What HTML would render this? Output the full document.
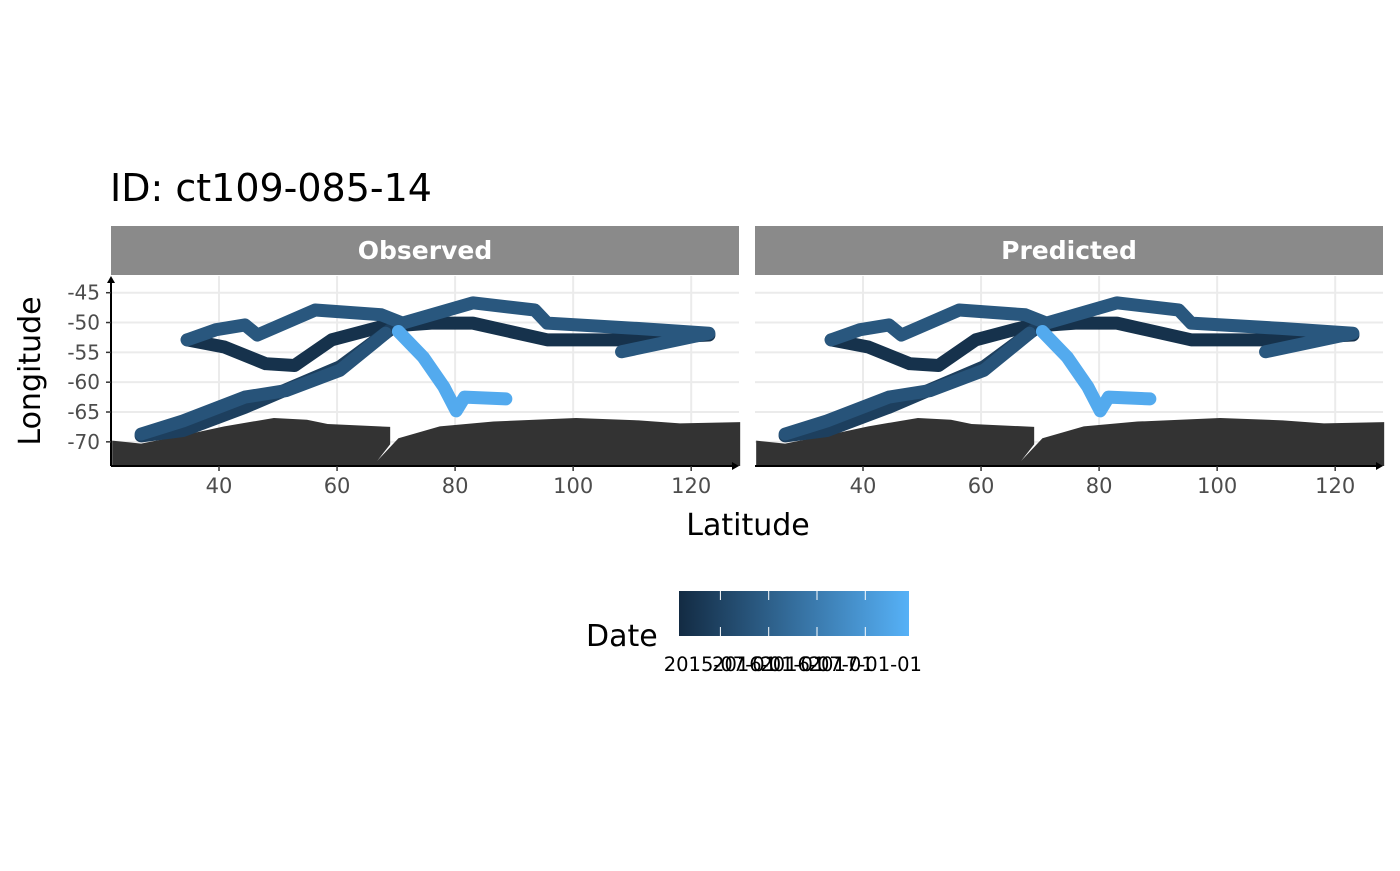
<!DOCTYPE html>
<html><head><meta charset="utf-8"><style>
body{margin:0;background:#fff;width:1400px;height:866px;overflow:hidden}
svg text{font-family:"DejaVu Sans","Liberation Sans",sans-serif}
</style></head><body>
<svg id="chart" width="1400" height="866" xmlns="http://www.w3.org/2000/svg">
<defs><linearGradient id="grad" x1="0" x2="1" y1="0" y2="0"><stop offset="0" stop-color="#132B43"/><stop offset="1" stop-color="#56B1F7"/></linearGradient></defs>
<text x="110" y="201" font-size="38" fill="#000">ID: ct109-085-14</text>
<text transform="translate(40,371) rotate(-90)" text-anchor="middle" font-size="30">Longitude</text>
<text x="748" y="535" text-anchor="middle" font-size="30">Latitude</text>
<g id="panels"></g>
<g>
<text x="586" y="646" font-size="30">Date</text>
<rect x="679" y="591" width="230" height="45" fill="url(#grad)"/>
<g id="legend-ticks"></g>
</g>
</svg>
<script>
const xTicks=[40,60,80,100,120];
const yTicks=[-45,-50,-55,-60,-65,-70];
const panelNames=["Observed","Predicted"];
const legendLabels=["2015-07-01","2016-01-01","2016-07-01","2017-01-01"];
const legendTickPos=[0.18,0.39,0.60,0.81];
// tracks: lat (x), lon (y), time fraction
const trackDarkLat=[34.6,40.9,47.9,52.8,59.1,67.5,76.0,83.0,95.6,107.5,123];
const trackDarkLon=[-52.9,-54.1,-56.9,-57.2,-52.9,-50.7,-50.1,-50.1,-52.9,-52.9,-52.1];
const trackDarkT=0.05;
const trackSwLat=[26.8,33.9,44.4,60.5,69.0];
const trackSwLon=[-69.0,-68.1,-64.2,-57.4,-51.2];
const trackSwT=0.15;
const trackSw2Lat=[26.8,33.9,44.4,51.4,60.5,68.2];
const trackSw2Lon=[-68.7,-66.5,-62.5,-61.4,-58.0,-51.8];
const trackSw2T=0.3;
const trackUpLat=[34.6,39.5,44.4,46.5,56.3,67.5,71.1,83.0,93.5,95.6,111.1,123,108.2];
const trackUpLon=[-52.9,-51.2,-50.4,-52.1,-47.9,-48.7,-50.1,-46.7,-47.9,-50.1,-51.0,-51.8,-54.9];
const trackUpT=0.33;
const trackLightLat=[70.4,74.6,78.1,80.2,81.6,88.6];
const trackLightLon=[-51.5,-55.8,-60.8,-64.8,-62.5,-62.8];
const trackLightT=0.95;
const landLat=[21.9,26.8,33.9,40.9,49.3,54.9,58.4,69.0,69.0,66.8,70.4,77.4,86.5,100.5,111.1,118.1,128.3,128.3,21.9];
const landLon=[-69.8,-70.3,-68.9,-67.4,-66.0,-66.3,-67.0,-67.5,-70.4,-73.2,-69.4,-67.4,-66.6,-66.0,-66.4,-66.9,-66.7,-74.05,-74.05];

const NS="http://www.w3.org/2000/svg";
function mk(tag,attrs,parent){const e=document.createElementNS(NS,tag);for(const k in attrs)e.setAttribute(k,attrs[k]);parent.appendChild(e);return e;}
function col(t){const a=[0x13,0x2B,0x43],b=[0x56,0xB1,0xF7];return "rgb("+a.map((v,i)=>Math.round(v+(b[i]-v)*t)).join(",")+")";}
const xMin=21.7,xMax=128.1,yMin=-74.05,yMax=-42.2;
const pTop=276,pBot=466,pW=628;
const panelsG=document.getElementById("panels");
panelNames.forEach((name,pi)=>{
  const x0=111+pi*644;
  const sx=v=>x0+(v-xMin)/(xMax-xMin)*pW;
  const sy=v=>pBot-(v-yMin)/(yMax-yMin)*(pBot-pTop);
  const g=mk("g",{},panelsG);
  
  
  const strip=mk("rect",{x:x0,y:226,width:pW,height:49,fill:"#8a8a8a"},g);
  
  
  const st=mk("text",{x:x0+pW/2,y:259,"text-anchor":"middle","font-size":"25","font-weight":"bold",fill:"#fff"},g);
  st.textContent=name;
  
  
  yTicks.forEach(v=>{const l=mk("line",{x1:x0,x2:x0+pW,y1:sy(v),y2:sy(v),stroke:"#ebebeb","stroke-width":2},g);
    });
  xTicks.forEach(v=>{const l=mk("line",{x1:sx(v),x2:sx(v),y1:pTop,y2:pBot,stroke:"#ebebeb","stroke-width":2},g);
    });
  const land=mk("polygon",{points:landLat.map((v,i)=>sx(v)+","+sy(landLon[i])).join(" "),fill:"#333333"},g);
  
  
  const tracks=[[trackDarkLat,trackDarkLon,trackDarkT],[trackSwLat,trackSwLon,trackSwT],[trackSw2Lat,trackSw2Lon,trackSw2T],[trackUpLat,trackUpLon,trackUpT],[trackLightLat,trackLightLon,trackLightT]];
  tracks.forEach((tr,ti)=>{
    const pl=mk("polyline",{points:tr[0].map((v,i)=>sx(v)+","+sy(tr[1][i])).join(" "),fill:"none",stroke:col(tr[2]),"stroke-width":13,"stroke-linecap":"round","stroke-linejoin":"round"},g);
    
    
  });
  const ax=mk("line",{x1:x0,x2:x0+pW-3,y1:pBot,y2:pBot,stroke:"#000","stroke-width":2},g);
  
  const ah=mk("polygon",{points:(x0+pW)+","+pBot+" "+(x0+pW-7)+","+(pBot-4)+" "+(x0+pW-7)+","+(pBot+4)},g);
  
  xTicks.forEach(v=>{
    const t=mk("line",{x1:sx(v),x2:sx(v),y1:pBot,y2:pBot+5,stroke:"#333","stroke-width":1.5},g);
    
    const lb=mk("text",{x:sx(v),y:pBot+27,"text-anchor":"middle","font-size":"21",fill:"#4d4d4d"},g);
    lb.textContent=v;
    
  });
  if(pi===0){
    const ay=mk("line",{x1:x0,x2:x0,y1:pBot,y2:pTop+3,stroke:"#000","stroke-width":2},g);
    
    const ah2=mk("polygon",{points:x0+","+pTop+" "+(x0-4)+","+(pTop+7)+" "+(x0+4)+","+(pTop+7)},g);
    
    yTicks.forEach(v=>{
      const t=mk("line",{x1:x0-5,x2:x0,y1:sy(v),y2:sy(v),stroke:"#333","stroke-width":1.5},g);
      
      const lb=mk("text",{x:x0-11,y:sy(v)+7,"text-anchor":"end","font-size":"20",fill:"#4d4d4d"},g);
      lb.textContent=v;
      
    });
  }
});
const lt=document.getElementById("legend-ticks");
legendLabels.forEach((s,i)=>{
  const x=679+230*legendTickPos[i];
  const l=mk("line",{x1:x,x2:x,y1:591,y2:600,stroke:"#fff","stroke-width":1},lt);
  
  const l2=mk("line",{x1:x,x2:x,y1:627,y2:636,stroke:"#fff","stroke-width":1},lt);
  
  const tx=mk("text",{x:x,y:671,"text-anchor":"middle","font-size":"19.5",fill:"#000"},lt);
  tx.textContent=s;
  
});
</script>
</body></html>
